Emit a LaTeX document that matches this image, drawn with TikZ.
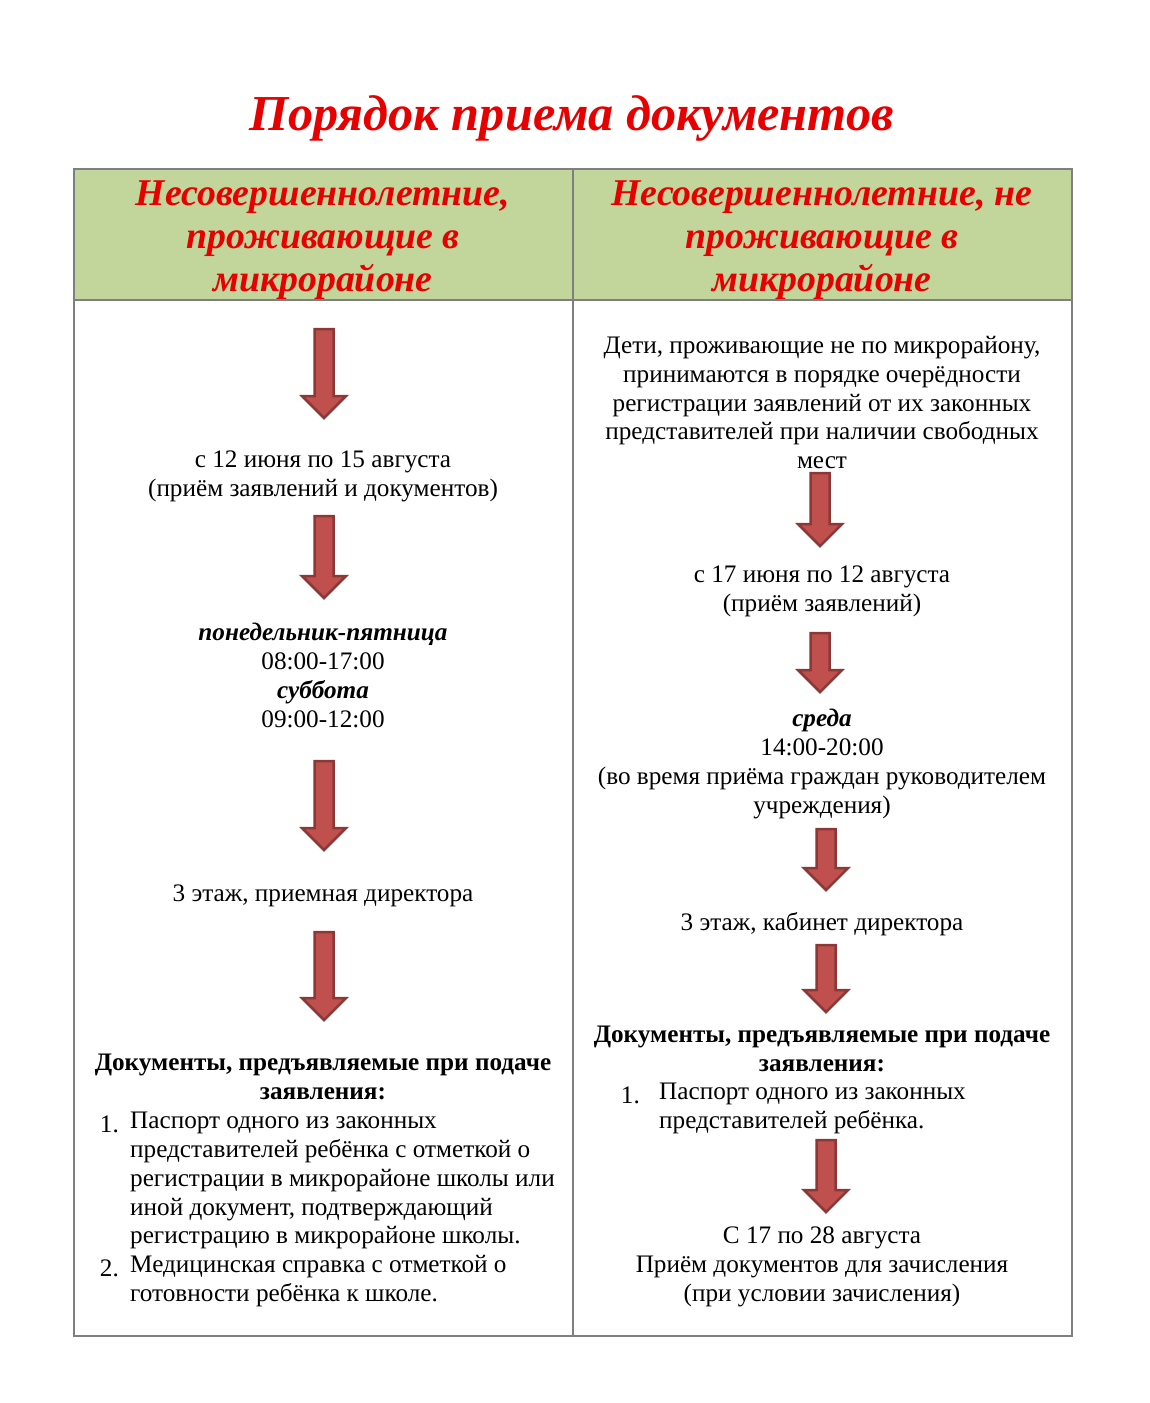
\documentclass[tikz,border=0pt]{standalone}
\usepackage{fontspec}
\setmainfont{Liberation Serif}
\definecolor{hdrgreen}{HTML}{C2D69B}
\definecolor{titlered}{HTML}{E60000}
\definecolor{arrfill}{HTML}{C0504D}
\definecolor{arrline}{HTML}{8C3836}
\definecolor{gridgray}{HTML}{7F7F7F}
\newcommand\blockarr[4]{% name, x, ytop, ybottom
  \draw[arrowshape] (#2-9.5,#3) -- (#2+9.5,#3) -- (#2+9.5,#4-22) -- (#2+22,#4-22)
    -- (#2,#4) coordinate (#1) -- (#2-22,#4-22) -- (#2-9.5,#4-22) -- cycle;}
\begin{document}
\begin{tikzpicture}[x=1pt,y=-1pt,
  arrowshape/.style={fill=arrfill,draw=arrline,line width=2.5pt,line join=miter},
  grid/.style={draw=gridgray,line width=1.5pt},
  txt/.style={font=\fontsize{25.2}{28.8}\selectfont,align=center,inner sep=0pt,anchor=north,execute at begin node=\strut},
  listtxt/.style={font=\fontsize{25.2}{28.8}\selectfont,align=left,inner sep=0pt,anchor=north west,execute at begin node=\strut},
  num/.style={font=\fontsize{25.2}{28.8}\selectfont,inner sep=0pt,anchor=base east},
  hdr/.style={font=\fontsize{37.8}{43}\selectfont\bfseries\itshape,text=titlered,align=center,inner sep=0pt,anchor=north,execute at begin node=\strut},
  ttl/.style={font=\fontsize{50.3}{58}\selectfont\bfseries\itshape,text=titlered,inner sep=0pt,anchor=base}]
\useasboundingbox (0,0) rectangle (1149,1403);
\fill[white] (0,0) rectangle (1149,1403);
% title
\node[ttl] (title) at (571.5,130) {Порядок приема документов};
% table
\fill[hdrgreen] (74,169) rectangle (1072,300);
\draw[grid] (74,169) rectangle (1072,1336);
\draw[grid] (74,300) -- (1072,300);
\draw[grid] (573,169) -- (573,1336);
% headers
\node[hdr] (h1) at (323,181) {Несовершеннолетние,\\проживающие в\\микрорайоне};
\node[hdr] (h2) at (822,181) {Несовершеннолетние, не\\проживающие в\\микрорайоне};
% left column
\blockarr{la1}{324}{329}{418}
\node[txt] (l1) at (323,451) {с 12 июня по 15 августа\\(приём заявлений и документов)};
\blockarr{la2}{324}{516}{598}
\node[txt] (l2) at (323,623) {\textbf{\textit{понедельник-пятница}}\\08:00-17:00\\\textbf{\textit{суббота}}\\09:00-12:00};
\blockarr{la3}{324}{761}{850}
\node[txt] (l3) at (323,881) {3 этаж, приемная директора};
\blockarr{la4}{324}{932}{1020}
\node[txt,font=\fontsize{25.2}{28.8}\selectfont\bfseries] (l4) at (323,1054) {Документы, предъявляемые при подаче\\заявления:};
\node[listtxt] (l5) at (130,1112) {Паспорт одного из законных\\представителей ребёнка с отметкой о\\регистрации в микрорайоне школы или\\иной документ, подтверждающий\\регистрацию в микрорайоне школы.\\Медицинская справка с отметкой о\\готовности ребёнка к школе.};
\node[num] (n1) at (119,1132) {1.};
\node[num] (n2) at (119,1276) {2.};
% right column
\node[txt] (r1) at (822,336) {Дети, проживающие не по микрорайону,\\принимаются в порядке очерёдности\\регистрации заявлений от их законных\\представителей при наличии свободных\\мест};
\blockarr{ra1}{820}{473}{546}
\node[txt] (r2) at (822,566) {с 17 июня по 12 августа\\(приём заявлений)};
\blockarr{ra2}{820}{633}{692}
\node[txt] (r3) at (822,709) {\textbf{\textit{среда}}\\14:00-20:00\\(во время приёма граждан руководителем\\учреждения)};
\blockarr{ra3}{826}{829}{890}
\node[txt] (r4) at (822,910) {3 этаж, кабинет директора};
\blockarr{ra4}{826}{945}{1012}
\node[txt,font=\fontsize{25.2}{28.8}\selectfont\bfseries] (r5) at (822,1026) {Документы, предъявляемые при подаче\\заявления:};
\node[listtxt] (r6) at (659,1083) {Паспорт одного из законных\\представителей ребёнка.};
\node[num] (n3) at (640,1103) {1.};
\blockarr{ra5}{826}{1140}{1212}
\node[txt] (r7) at (822,1227) {С 17 по 28 августа\\Приём документов для зачисления\\(при условии зачисления)};
\end{tikzpicture}
\end{document}
